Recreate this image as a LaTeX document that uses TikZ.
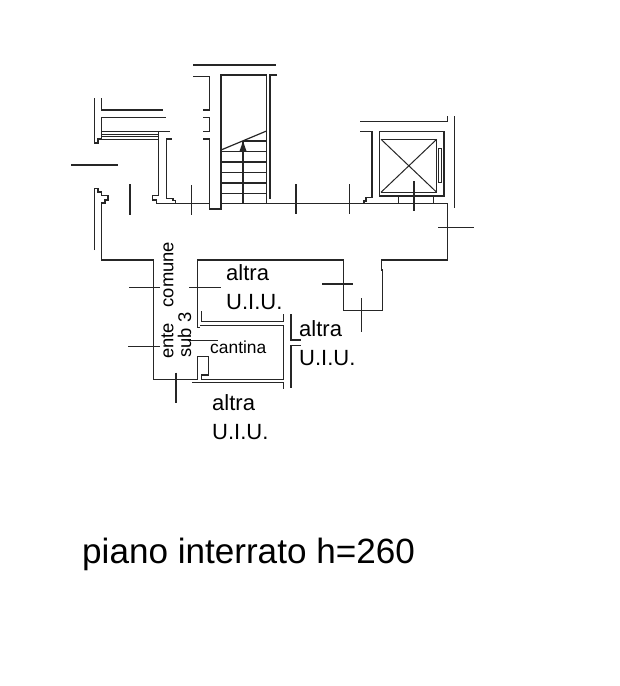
\documentclass[tikz,border=0pt]{standalone}
\usepackage{fontspec}
\setmainfont{Liberation Sans}
\tikzset{%
  wall/.style={line width=1.4pt,black!85},
  tick/.style={line width=1.2pt,black!85},
  thin wall/.style={line width=1pt,black!85},
  roomlabel/.style={anchor=base west,inner sep=0pt,font=\fontsize{22}{22}\selectfont},
  vertlabel/.style={anchor=base west,inner sep=0pt,rotate=90,font=\fontsize{18.4}{18.4}\selectfont},
}
\begin{document}
\begin{tikzpicture}[x=1pt,y=-1pt]
    \useasboundingbox (0,0) rectangle (620,686);

    % stair well
    \draw[wall] (193,65) -- (276,65);
    \draw[wall] (193,76.7) -- (209.5,76.7) -- (209.5,110) -- (203,110);
    \draw[wall] (203,117.7) -- (209.5,117.7) -- (209.5,131.7) -- (203,131.7);
    \draw[wall] (203,139) -- (209.5,139) -- (209.5,209) -- (221,209) -- (221,75) -- (266.5,75) -- (266.5,204);
    \draw[wall] (277,75) -- (270,75) -- (270,199);
    \foreach \tread in {151.7,162,172.7,183,193.7}
      \draw[wall] (221,\tread) -- (266.5,\tread);
    \draw[wall] (243,141) -- (266.5,141);
    \draw[tick] (243,141) -- (243,204);
    \draw[tick] (221,150) -- (266.5,131);
    \fill[black!85] (243,141) -- (245,147) -- (246.5,151) -- (239.5,151) -- (241,147) -- cycle;

    % corridor
    \draw[wall] (156.7,203.5) -- (209.5,203.5);
    \draw[wall] (221,203.5) -- (447.7,203.5) -- (447.7,260) -- (381.7,260) -- (381.7,270)
      -- (382.3,270) -- (382.3,310.7) -- (343.3,310.7) -- (343.3,260) -- (197.7,260)
      -- (197.7,327.7) -- (200,327.7);

    % entrance, left side
    \draw[wall] (94.3,98) -- (94.3,143) -- (98,143) -- (98,139) -- (101.7,139) -- (101.7,117.7) -- (166,117.7);
    \draw[wall] (101.7,98) -- (101.7,110) -- (163,110);
    \foreach \hatch in {134,136.3,139}
      \draw[thin wall] (101.7,\hatch) -- (158.7,\hatch);
    \draw[wall] (101.7,131.7) -- (170,131.7);
    \draw[wall] (158.7,131.7) -- (158.7,195.7) -- (152.7,195.7) -- (152.7,200) -- (156.7,200) -- (156.7,203.5);
    \draw[wall] (171.7,139) -- (166.7,139) -- (166.7,198.3) -- (173,198.3) -- (173,200.5) -- (175.7,200.5) -- (175.7,203.5);
    \draw[wall] (94.3,250) -- (94.3,188.3) -- (98,188.3) -- (98,192) -- (101.7,192) -- (101.7,195.7)
      -- (108,195.7) -- (108,200) -- (105,200) -- (105,203) -- (101.7,203) -- (101.7,260) -- (153.3,260)
      -- (153.3,379.3) -- (197.7,379.3);

    % cantina
    \draw[wall] (201.7,311) -- (201.7,321.7) -- (283.3,321.7) -- (283.3,314);
    \draw[wall] (200,325.7) -- (283.3,325.7) -- (283.3,379.3) -- (201.7,379.3) -- (201.7,375)
      -- (208.3,375) -- (208.3,356.7) -- (197.7,356.7) -- (197.7,379.3);
    \draw[wall] (192.3,382.7) -- (283.3,382.7) -- (283.3,389);
    \draw[wall] (291,314) -- (291,340) -- (301,340);
    \draw[wall] (301,345.7) -- (291,345.7) -- (291,388.3);

    % lift
    \draw[wall] (447.7,116) -- (447.7,121.7) -- (360,121.7);
    \draw[wall] (454.3,116) -- (454.3,208.3);
    \draw[wall] (360,131.7) -- (372,131.7) -- (372,197.7) -- (366,197.7) -- (366,201) -- (364,201) -- (364,203.5);
    \draw[wall] (379.3,131.7) rectangle (444,196);
    \draw[wall] (381,139.3) -- (436.7,139.3) (381,192.3) -- (436.7,192.3);
    \draw[thin wall] (381,139.3) -- (436.7,192.3) (436.7,139.3) -- (381,192.3);
    \draw[thin wall] (436.7,139.3) -- (436.7,192.3);
    \draw[thin wall] (438.3,148.3) rectangle (441.7,182.7);
    \draw[thin wall] (398.7,196) -- (398.7,203.5) (433.3,196) -- (433.3,203.5);

    % section marks
    \foreach \xa/\ya/\xb/\yb in {130/184/130/215, 191.3/185/191.3/215, 71/165/117.7/165,
      296/184/296/214, 349.7/184/349.7/214, 414/181/414/211, 438.3/227.3/474.3/227.3,
      322.3/284/353.3/284, 361.3/298.3/361.3/332.3, 129.3/287.3/160/287.3,
      189.3/287.3/220.7/287.3, 128/346.7/160/346.7, 188/340.3/217.7/340.3, 176/372.7/176/403}
      \draw[tick] (\xa,\ya) -- (\xb,\yb);

    % labels
    \node[roomlabel] (altraA) at (226,280) {altra};
    \node[roomlabel] (uiuA) at (226,309) {U.I.U.};
    \node[roomlabel] (altraB) at (299,336) {altra};
    \node[roomlabel] (uiuB) at (299,365) {U.I.U.};
    \node[roomlabel] (altraC) at (212,410.7) {altra};
    \node[roomlabel] (uiuC) at (212,439) {U.I.U.};
    \node[anchor=base west,inner sep=0pt,font=\fontsize{17.4}{17.4}\selectfont] (cantina) at (210,353) {cantina};
    \node[vertlabel] (comune) at (173.3,307.5) {comune};
    \node[vertlabel] (ente) at (173.3,359) {ente};
    \node[vertlabel] (sub) at (191,357.7) {sub 3};
    \node[anchor=base west,inner sep=0pt,font=\fontsize{35.1}{35.1}\selectfont] (title) at (82,563) {piano interrato h=260};
  \end{tikzpicture}
\end{document}
